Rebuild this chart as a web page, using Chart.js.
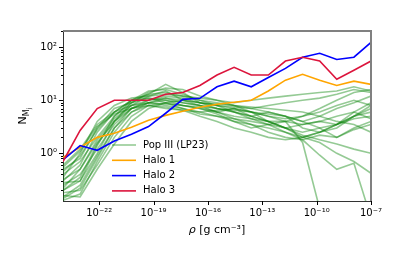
<!DOCTYPE html>
<html>
<head>
<meta charset="utf-8">
<script src="https://cdn.jsdelivr.net/npm/chart.js@4.4.1/dist/chart.umd.min.js"></script>
<style>
  html, body { margin: 0; padding: 0; background: #fff; }
  #wrap { width: 412px; height: 258px; }
</style>
</head>
<body>
<div id="wrap"><canvas id="myChart" width="412" height="258"></canvas></div>
<script>
// * density bins (g cm^-3)
const rho = [1.0e-24, 8.79e-24, 7.74e-23, 6.81e-22, 6.0e-21, 5.27e-20, 4.64e-19, 4.08e-18, 3.59e-17,
    3.16e-16, 2.78e-15, 2.45e-14, 2.15e-13, 1.9e-12, 1.67e-11, 1.47e-10, 1.29e-9, 1.14e-8, 1.0e-7];

const halo1 = [0.84, 1.3, 2.0, 2.4, 3.1, 4.2, 5.2, 6.2, 7.4, 8.4, 9.2, 10, 15, 24, 31, 24, 19, 23, 20];
const halo2 = [0.75, 1.4, 1.14, 1.7, 2.3, 3.2, 5.7, 10.4, 10.9, 18, 23, 18, 27, 40, 65, 77, 59, 65, 124];
const halo3 = [0.7, 2.7, 7.0, 10, 10, 10, 13, 14, 19, 30, 42, 30, 30, 55, 65, 55, 25, 37, 55];

// * Pop III (LP23) runs
const popIII = [
    [0.2, 0.35, 1.5, 4, 8, 12, 15, 10, 8, 7, 6, 5, 6, 5, 4, 5, 7, 9, 12],
    [0.3, 0.6, 2.5, 6, 10, 13, 20, 14, 9, 8, 7, 6, 5, 4, 3.5, 4, 3.5, 5, 6],
    [0.15, 0.25, 0.9, 3, 7, 10, 11, 9, 8, 6, 5, 4.5, 4, 3, 2.5, 3, 2, 3, 4],
    [0.5, 0.8, 3, 7, 9, 11, 10, 8, 7, 6, 7, 5, 4, 4, 1.6, 0.09, null, null, null],
    [0.25, 0.4, 1.2, 3.5, 7, 9, 8, 7, 6, 5, 4, 3.5, 3, 2.5, 1.8, 0.92, 0.5, 0.65, 0.06],
    [0.35, 1.0, 4, 8, 11, 12, 13, 12, 10, 9, 8, 6, 4, 3, 2, 1.6, 1.0, 0.7, 0.42],
    [0.18, 0.2, 0.6, 2, 5, 8, 9, 8, 7, 5.5, 4, 3, 3.5, 4, 5, 7, 10, 14, 16],
    [0.4, 0.7, 2, 5, 9, 14, 17, 16, 12, 10, 9, 10, 11, 12, 13, 14, 15, 18, 15],
    [0.13, 0.17, 0.7, 2.5, 6, 8, 7, 6.5, 6, 6.5, 7, 6, 5, 4.5, 5, 6, 8, 10, 8],
    [0.22, 0.5, 1.8, 4.5, 8, 10, 12, 11, 9, 7, 6, 5, 4, 3, 2.2, 1.8, 1.5, 1.2, 1.0],
    [0.6, 1.2, 3.5, 6, 8, 9, 10, 9, 8, 7, 6.5, 6, 5.5, 5, 4, 3, 3.5, 4.5, 5],
    [0.28, 0.3, 1.0, 4, 9, 13, 14, 12, 11, 10, 8, 7, 6, 5, 3, 2.5, 3, 5, 7],
    [0.16, 0.15, 0.5, 1.5, 4, 7, 9, 10, 9, 8, 7.5, 7, 8, 9, 10, 11, 13, 16, 14],
    [0.45, 0.9, 2.8, 6, 10, 11, 9, 7, 5.5, 5, 4.5, 4, 3.5, 3, 3.5, 4, 5, 6, 4.5],
    [0.2, 0.3, 1.4, 5, 10, 15, 16, 13, 10, 8, 6, 4.5, 3.5, 2.5, 2, 2.5, 3.5, 5, 8],
    [0.32, 0.5, 1.6, 4, 7, 9, 8.5, 8, 7.5, 6, 4.5, 3.5, 2.5, 2, 1.8, 2.2, 2, 2.8, 3.5],
    [0.14, 0.22, 0.8, 3, 6, 9, 11, 10, 9, 8.5, 8, 7.5, 7, 6.5, 6, 5, 4, 3.5, 2.5],
    [0.55, 1.1, 3.2, 5.5, 7, 8, 7.5, 6.5, 5, 4, 3, 2.5, 2, 1.8, 2, 2.5, 3.5, 6, 9],
];

const xTicks = [1e-22, 1e-19, 1e-16, 1e-13, 1e-10, 1e-7];
const yMajor = [1, 10, 100];
const yTicks = [0.2, 0.3, 0.4, 0.5, 0.6, 0.7, 0.8, 0.9, 1, 2, 3, 4, 5, 6, 7, 8, 9,
    10, 20, 30, 40, 50, 60, 70, 80, 90, 100, 200];

const GREEN = "rgba(0,128,0,0.42)";
const legendItems = [
    { label: "Pop III (LP23)", color: GREEN },
    { label: "Halo 1", color: "#FFA500" },
    { label: "Halo 2", color: "#0000FF" },
    { label: "Halo 3", color: "#DC143C" },
];

const SUP = { "-": "\u207B", "0": "\u2070", "1": "\u00B9", "2": "\u00B2", "3": "\u00B3", "4": "\u2074",
    "5": "\u2075", "6": "\u2076", "7": "\u2077", "8": "\u2078", "9": "\u2079" };
const pow10 = (v) => "10" + String(Math.round(Math.log10(v))).split("").map((c) => SUP[c]).join("");

const toXY = (vals) => vals.map((v, i) => ({ x: rho[i], y: v }));

const lineDs = (vals, color) => ({
    data: toXY(vals),
    borderColor: color,
    borderWidth: 1.6,
    pointRadius: 0,
    fill: false,
    spanGaps: false,
});

// * first dataset is drawn on top in Chart.js
const datasets = [
    lineDs(halo3, "#DC143C"),
    lineDs(halo2, "#0000FF"),
    lineDs(halo1, "#FFA500"),
    ...popIII.map((v) => lineDs(v, GREEN)),
];

const FONT = "'DejaVu Sans', sans-serif";

const extras = {
    id: "extras",
    afterDraw(chart) {
        const ctx = chart.ctx;
        const a = chart.chartArea;
        const xs = chart.scales.x;
        const ys = chart.scales.y;
        ctx.save();

        // * tick marks
        ctx.strokeStyle = "#000";
        ctx.lineWidth = 1;
        xTicks.forEach((t) => {
            const px = Math.round(xs.getPixelForValue(t)) + 0.5;
            ctx.beginPath();
            ctx.moveTo(px, a.bottom);
            ctx.lineTo(px, a.bottom + 4);
            ctx.stroke();
        });
        yTicks.forEach((t) => {
            const py = Math.round(ys.getPixelForValue(t)) + 0.5;
            const len = yMajor.includes(t) ? 4 : 2;
            ctx.beginPath();
            ctx.moveTo(a.left, py);
            ctx.lineTo(a.left - len, py);
            ctx.stroke();
        });

        // * top / right spines
        ctx.strokeStyle = "#808080";
        ctx.lineWidth = 2;
        ctx.beginPath();
        ctx.moveTo(a.left, a.top);
        ctx.lineTo(a.right, a.top);
        ctx.lineTo(a.right, a.bottom);
        ctx.stroke();

        // * legend
        ctx.font = "10px " + FONT;
        ctx.textBaseline = "middle";
        ctx.textAlign = "left";
        legendItems.forEach((it, i) => {
            const y = a.top + 114 + i * 15.3;
            ctx.strokeStyle = it.color;
            ctx.lineWidth = 1.6;
            ctx.beginPath();
            ctx.moveTo(a.left + 49, y);
            ctx.lineTo(a.left + 73, y);
            ctx.stroke();
            ctx.fillStyle = "#000";
            ctx.fillText(it.label, a.left + 80, y);
        });

        // * x title
        ctx.fillStyle = "#000";
        const cx = (a.left + a.right) / 2;
        const p1 = "\u03C1";
        ctx.font = "11px " + FONT;
        const p2 = " [g cm\u207B\u00B3]";
        const w2 = ctx.measureText(p2).width;
        ctx.font = "italic 11px " + FONT;
        const w1 = ctx.measureText(p1).width;
        const x0 = cx - (w1 + w2) / 2;
        ctx.textBaseline = "alphabetic";
        ctx.fillText(p1, x0, 233);
        ctx.font = "11px " + FONT;
        ctx.fillText(p2, x0 + w1, 233);

        // * y title N_{M_j}
        ctx.translate(26, (a.top + a.bottom) / 2);
        ctx.rotate(-Math.PI / 2);
        ctx.font = "11px " + FONT;
        const wN = ctx.measureText("N").width;
        ctx.font = "8px " + FONT;
        const wM = ctx.measureText("M").width;
        ctx.font = "6px " + FONT;
        const wj = ctx.measureText("j").width;
        const sx = -(wN + wM + wj) / 2;
        ctx.font = "11px " + FONT;
        ctx.fillText("N", sx, 0);
        ctx.font = "8px " + FONT;
        ctx.fillText("M", sx + wN, 3);
        ctx.font = "6px " + FONT;
        ctx.fillText("j", sx + wN + wM, 5);
        ctx.restore();
    },
};

const config = {
    type: "line",
    data: { datasets },
    options: {
        responsive: false,
        animation: false,
        layout: { padding: { top: 31, right: 41, left: 0, bottom: 0 } },
        plugins: { legend: false, tooltip: { enabled: false } },
        scales: {
            x: {
                type: "logarithmic",
                min: 1e-24,
                max: 1e-7,
                afterBuildTicks: (s) => { s.ticks = xTicks.map((v) => ({ value: v })); },
                afterFit: (s) => { s.height = 57; },
                ticks: {
                    autoSkip: false,
                    maxRotation: 0,
                    padding: 6,
                    color: "#000",
                    font: { family: FONT, size: 10 },
                    callback: (v) => pow10(v),
                },
                grid: { drawOnChartArea: false, drawTicks: false },
                border: { color: "#333", width: 1 },
            },
            y: {
                type: "logarithmic",
                min: 0.126,
                max: 203,
                afterBuildTicks: (s) => { s.ticks = yTicks.map((v) => ({ value: v })); },
                afterFit: (s) => { s.width = 63; },
                ticks: {
                    autoSkip: false,
                    padding: 6,
                    color: "#000",
                    font: { family: FONT, size: 10 },
                    callback: (v) => (yMajor.includes(v) ? pow10(v) : ""),
                },
                grid: { drawOnChartArea: false, drawTicks: false },
                border: { color: "#333", width: 1 },
            },
        },
    },
    plugins: [extras],
};

const ctx = document.getElementById("myChart").getContext("2d");
const chart = new Chart(ctx, config);
</script>
</body>
</html>
